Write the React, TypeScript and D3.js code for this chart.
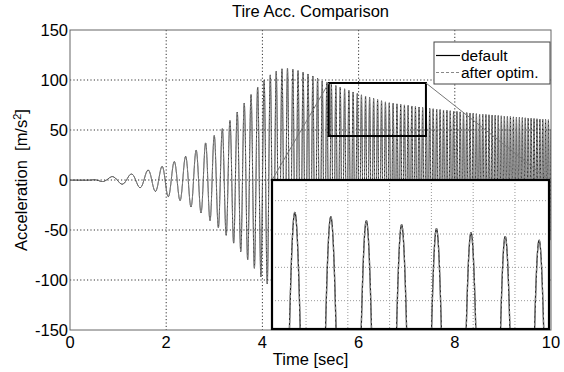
import React, { useMemo } from 'react';
import * as d3 from 'd3';

// ---------- data ----------
const xTicks = [0, 2, 4, 6, 8, 10];
const yTicks = [-150, -100, -50, 0, 50, 100, 150];
const gridX = [2, 4, 6, 8];
const gridY = [-100, -50, 0, 50, 100];

// upper envelope (peak values) of the response
const upperTimes = [0, 0.45, 0.87, 1.28, 1.63, 1.9, 2.15, 2.38, 2.6, 2.77, 2.96, 3.12, 3.28, 3.43, 3.57, 3.71, 3.85, 3.99, 4.09, 4.23, 4.35, 4.5, 4.7, 4.9, 5.1, 5.27, 5.38, 6.0, 6.6, 7.4, 8.5, 10];
const upperVals = [0, 0, 3.3, 6, 10, 13.3, 18, 23, 29, 35, 43, 49, 57, 65, 74, 82, 90.7, 96.7, 103, 107, 110.7, 112, 110, 107, 103, 98.3, 97, 86, 77.5, 72, 66, 60];
// lower envelope (trough values)
const lowerTimes = [0, 0.5, 1.07, 1.49, 1.8, 2.0, 2.27, 2.48, 2.68, 2.86, 3.03, 3.19, 3.35, 3.5, 3.65, 3.79, 3.92, 4.02, 4.16, 4.5, 5.0, 6.0, 7.4, 10];
const lowerVals = [0, -0.5, -4, -8, -11.7, -16, -20, -26, -31, -38.7, -45, -52.7, -60, -69, -77, -86, -93, -101, -106, -112, -105, -85, -72, -60];
// instantaneous frequency of the oscillation [Hz]
const freqTimes = [0, 1, 1.5, 2, 2.5, 3, 3.5, 4, 4.5, 5, 6, 7, 8, 9, 10];
const freqHz = [2.2, 2.4, 2.9, 3.9, 4.5, 5.8, 6.8, 7.5, 8.8, 10, 11.6, 13, 14.5, 15.8, 17];
const firstPeakTime = 0.87;
// amplitude ratio of the optimised response to the default one
const optimTimes = [0, 10];
const optimRatio = [1, 1];

// zoom box (data units of the main axes) and inset view
const zoomBoxX = [5.38, 7.4];
const zoomBoxY = [44, 97];
const insetYDomain = [51.5, 96.2];
const insetSpan = 0.663;
const insetGridStep = 0.1;

const seriesNames = ['default', 'after optim.'];

// ---------- layout ----------
const W = 564, H = 372;
const L = 70, R = 551, T = 30, B = 330;
const IL = 272, IR = 549, IT = 180, IB = 329;
const FONT = '"Liberation Sans", Arial, Helvetica, sans-serif';
const FS = 16.5;

export default function App() {
  const x = d3.scaleLinear().domain([0, 10]).range([L, R]);
  const y = d3.scaleLinear().domain([-150, 150]).range([B, T]);

  const sig = useMemo(() => {
    const up = d3.scaleLinear().domain(upperTimes).range(upperVals).clamp(true);
    const lo = d3.scaleLinear().domain(lowerTimes).range(lowerVals).clamp(true);
    const fr = d3.scaleLinear().domain(freqTimes).range(freqHz).clamp(true);
    const rat = d3.scaleLinear().domain(optimTimes).range(optimRatio).clamp(true);
    const dt = 0.0005;
    const n = Math.round(10 / dt);
    const ts: number[] = [];
    const ph: number[] = [];
    let p = 0;
    for (let i = 0; i <= n; i++) {
      const t = i * dt;
      ts.push(t);
      ph.push(p);
      p += 2 * Math.PI * fr(t + dt / 2) * dt;
    }
    const idx0 = Math.round(firstPeakTime / dt);
    const off = ph[idx0];
    const a: [number, number][] = [];
    const b: [number, number][] = [];
    for (let i = 0; i <= n; i++) {
      const t = ts[i];
      const U = up(t), Lo = lo(t);
      const mid = (U + Lo) / 2, amp = (U - Lo) / 2;
      const c = Math.cos(ph[i] - off);
      a.push([t, mid + amp * c]);
      b.push([t, (mid + amp * c) * rat(t)]);
    }
    // locate a peak near 5.97 s for the inset window
    const i597 = Math.round(5.97 / dt);
    const target = off + 2 * Math.PI * Math.ceil((ph[i597] - off) / (2 * Math.PI));
    let ip = i597;
    while (ip < n && ph[ip] < target) ip++;
    const t0 = ts[ip] - 0.055;
    return { a, b, t0 };
  }, []);

  const line = d3.line<[number, number]>().x(d => x(d[0])).y(d => y(d[1]));

  const xi = d3.scaleLinear().domain([sig.t0, sig.t0 + insetSpan]).range([IL, IR]);
  const yi = d3.scaleLinear().domain(insetYDomain).range([IB, IT]);
  const lineI = d3.line<[number, number]>().x(d => xi(d[0])).y(d => yi(d[1]));
  const inA = sig.a.filter(d => d[0] >= sig.t0 - 0.01 && d[0] <= sig.t0 + insetSpan + 0.01);
  const inB = sig.b.filter(d => d[0] >= sig.t0 - 0.01 && d[0] <= sig.t0 + insetSpan + 0.01);
  const insetGridX: number[] = [];
  for (let g = Math.ceil((sig.t0 + 0.001) / insetGridStep) * insetGridStep; g < sig.t0 + insetSpan - 0.005; g += insetGridStep) insetGridX.push(g);
  const insetGridY = yi.ticks(5);

  const bx0 = x(zoomBoxX[0]), bx1 = x(zoomBoxX[1]);
  const by0 = y(zoomBoxY[1]), by1 = y(zoomBoxY[0]);

  return (
    <svg width={W} height={H} style={{ position: 'absolute', left: 0, top: 0, background: '#fff' }} fontFamily={FONT}>
      <defs>
        <clipPath id="mainClip"><rect x={L} y={T} width={R - L} height={B - T} /></clipPath>
        <clipPath id="insetClip"><rect x={IL} y={IT} width={IR - IL} height={IB - IT} /></clipPath>
      </defs>
      <rect x={0} y={0} width={W} height={H} fill="#fff" />
      {/* main grid */}
      <g stroke="#333" strokeWidth={1} strokeDasharray="1.2,2.2">
        {gridX.map(v => <line key={'gx' + v} x1={x(v)} x2={x(v)} y1={T} y2={B} />)}
        {gridY.map(v => <line key={'gy' + v} x1={L} x2={R} y1={y(v)} y2={y(v)} />)}
      </g>
      {/* series */}
      <g clipPath="url(#mainClip)">
        <path d={line(sig.a) || ''} fill="none" stroke="#000" strokeWidth={0.85} />
        <path d={line(sig.b) || ''} fill="none" stroke="#999" strokeWidth={0.85} strokeDasharray="2.5,1.5" />
      </g>
      {/* axes box */}
      <rect x={L} y={T} width={R - L} height={B - T} fill="none" stroke="#666" strokeWidth={1} />
      {/* zoom box + connectors */}
      <rect x={bx0} y={by0} width={bx1 - bx0} height={by1 - by0} fill="none" stroke="#000" strokeWidth={2} />
      <line x1={bx0} y1={by0} x2={IL} y2={IT} stroke="#777" strokeWidth={1} />
      <line x1={bx1} y1={by0} x2={IR} y2={IT} stroke="#777" strokeWidth={1} />
      {/* inset */}
      <rect x={IL} y={IT} width={IR - IL} height={IB - IT} fill="#fff" />
      <g stroke="#999" strokeWidth={1} strokeDasharray="1,2">
        {insetGridX.map((v, i) => <line key={'igx' + i} x1={xi(v)} x2={xi(v)} y1={IT} y2={IB} />)}
        {insetGridY.map(v => <line key={'igy' + v} x1={IL} x2={IR} y1={yi(v)} y2={yi(v)} />)}
      </g>
      <g clipPath="url(#insetClip)">
        <path d={lineI(inA) || ''} fill="none" stroke="#222" strokeWidth={1.3} />
        <path d={lineI(inB) || ''} fill="none" stroke="#888" strokeWidth={1.3} strokeDasharray="3,2" />
      </g>
      <rect x={IL} y={IT} width={IR - IL} height={IB - IT} fill="none" stroke="#000" strokeWidth={2.2} />
      {/* legend */}
      <rect x={434} y={42} width={116} height={42} fill="#fff" stroke="#444" strokeWidth={1} />
      <line x1={436} x2={460} y1={55.5} y2={55.5} stroke="#000" strokeWidth={1.2} />
      <line x1={436} x2={460} y1={72.5} y2={72.5} stroke="#888" strokeWidth={1.2} strokeDasharray="3,2" />
      <text x={461} y={60.5} fontSize={15.5} fill="#000">{seriesNames[0]}</text>
      <text x={461} y={77.8} fontSize={15.5} fill="#000">{seriesNames[1]}</text>
      {/* tick labels */}
      {yTicks.map(v => (
        <text key={'yt' + v} x={68} y={y(v)} dy="0.36em" textAnchor="end" fontSize={FS} fill="#000">{v}</text>
      ))}
      {xTicks.map(v => (
        <text key={'xt' + v} x={x(v)} y={348} textAnchor="middle" fontSize={FS} fill="#000">{v}</text>
      ))}
      {/* titles */}
      <text x={(L + R) / 2} y={17} textAnchor="middle" fontSize={FS} fill="#000">Tire Acc. Comparison</text>
      <text x={(L + R) / 2} y={365} textAnchor="middle" fontSize={FS} fill="#000">Time [sec]</text>
      <text transform={`translate(27,${(T + B) / 2}) rotate(-90)`} textAnchor="middle" fontSize={FS} fill="#000" style={{ whiteSpace: 'pre' }}>
        <tspan>Acceleration  [m/s</tspan>
        <tspan dy={-6} fontSize={11}>2</tspan>
        <tspan dy={6}>]</tspan>
      </text>
    </svg>
  );
}
